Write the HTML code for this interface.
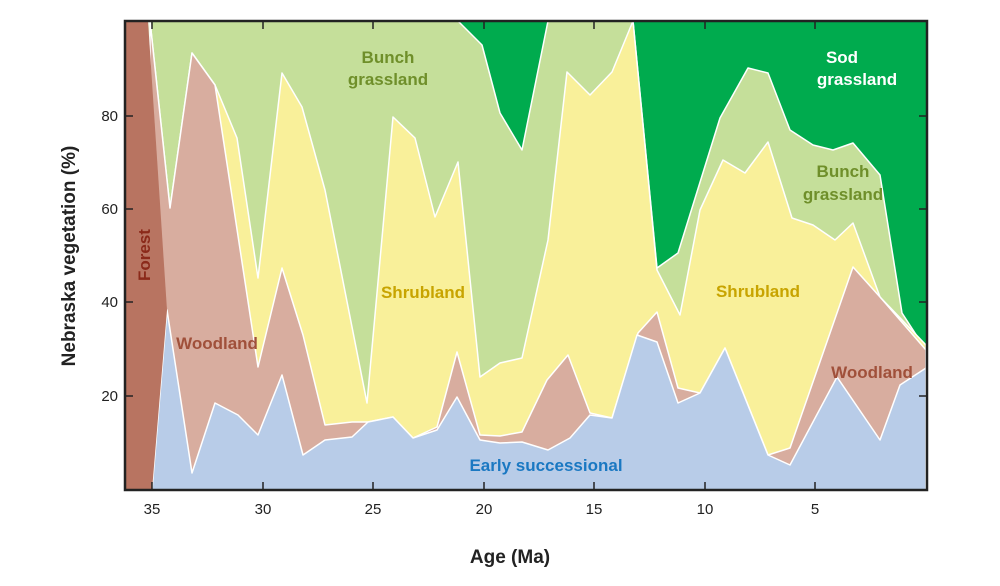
<!DOCTYPE html>
<html><head><meta charset="utf-8"><style>
body{margin:0;background:#fff;}
svg{display:block;font-family:"Liberation Sans",sans-serif;}
</style></head><body>
<svg width="1000" height="586" viewBox="0 0 1000 586" xmlns="http://www.w3.org/2000/svg">
<rect width="1000" height="586" fill="#fff"/>
<rect x="125" y="21" width="802" height="469" fill="#00ab4e"/>
<g stroke="#fff" stroke-width="1.5" stroke-linejoin="round">
<polygon fill="#c5df9a" points="148,21 458,21 482,45 500,113 522,150 548,21 633,21 657,268 678,253 720,118 748,68 768,73 790,130 813,145 833,150 853,143 880,175 902,313 926,350 926,490 148,490"/>
<polygon fill="#f9f09a" points="150,21 170,208 192,53 215,85 237,138 258,278 282,73 302,107 325,190 367,403 393,117 415,138 435,217 458,162 480,377 500,363 522,358 548,240 567,72 590,95 612,72 633,21 657,270 680,315 700,210 723,160 745,173 768,142 792,218 813,225 835,240 853,223 880,297 926,345 926,490 150,490"/>
<polygon fill="#d8ad9f" points="150,21 170,208 192,53 215,85 258,367 282,268 303,335 325,425 352,422 368,422 393,417 413,438 437,427 457,352 480,435 500,436 522,432 547,380 568,355 590,413 612,418 638,333 657,312 678,388 700,393 725,348 768,455 790,448 853,267 880,297 926,350 926,490 150,490"/>
<polygon fill="#b8cce8" points="152,490 167,310 192,473 215,403 238,415 258,435 282,375 303,455 325,440 352,437 368,422 393,417 413,438 437,430 457,397 480,440 500,443 522,442 548,450 570,438 590,415 612,418 637,335 657,342 678,403 700,393 725,348 768,455 790,465 837,377 880,440 900,385 926,368 926,490"/>
</g>
<polygon fill="#b87461" points="125,21 148,21 167,310 152,490 125,490"/>
<rect x="125" y="21" width="802" height="469" fill="none" stroke="#222" stroke-width="2.5"/>
<g stroke="#222" stroke-width="1.5">
<line x1="152" y1="490" x2="152" y2="482"/><line x1="263" y1="490" x2="263" y2="482"/><line x1="373" y1="490" x2="373" y2="482"/><line x1="484" y1="490" x2="484" y2="482"/><line x1="594" y1="490" x2="594" y2="482"/><line x1="705" y1="490" x2="705" y2="482"/><line x1="815" y1="490" x2="815" y2="482"/>
<line x1="152" y1="21" x2="152" y2="29"/><line x1="263" y1="21" x2="263" y2="29"/><line x1="373" y1="21" x2="373" y2="29"/><line x1="484" y1="21" x2="484" y2="29"/><line x1="594" y1="21" x2="594" y2="29"/><line x1="705" y1="21" x2="705" y2="29"/><line x1="815" y1="21" x2="815" y2="29"/>
<line x1="125" y1="116" x2="133" y2="116"/><line x1="125" y1="209" x2="133" y2="209"/><line x1="125" y1="302" x2="133" y2="302"/><line x1="125" y1="396" x2="133" y2="396"/>
<line x1="927" y1="116" x2="919" y2="116"/><line x1="927" y1="209" x2="919" y2="209"/><line x1="927" y1="302" x2="919" y2="302"/><line x1="927" y1="396" x2="919" y2="396"/>
</g>
<g font-size="15" fill="#222" text-anchor="end">
<text x="118" y="121">80</text><text x="118" y="214">60</text><text x="118" y="307">40</text><text x="118" y="401">20</text>
</g>
<g font-size="15" fill="#222" text-anchor="middle">
<text x="152" y="514">35</text><text x="263" y="514">30</text><text x="373" y="514">25</text><text x="484" y="514">20</text><text x="594" y="514">15</text><text x="705" y="514">10</text><text x="815" y="514">5</text>
</g>
<text x="510" y="563" font-size="19" font-weight="bold" fill="#222" text-anchor="middle">Age (Ma)</text>
<text transform="translate(75,256) rotate(-90)" font-size="19" font-weight="bold" fill="#222" text-anchor="middle">Nebraska vegetation (%)</text>
<g font-size="17" font-weight="bold" text-anchor="middle">
<text x="388" y="63" fill="#6f8f2a">Bunch</text><text x="388" y="85" fill="#6f8f2a">grassland</text>
<text x="842" y="63" fill="#fff">Sod</text><text x="857" y="85" fill="#fff">grassland</text>
<text x="843" y="177" fill="#6f8f2a">Bunch</text><text x="843" y="200" fill="#6f8f2a">grassland</text>
<text x="423" y="298" fill="#c8a400">Shrubland</text>
<text x="758" y="297" fill="#c8a400">Shrubland</text>
<text x="217" y="349" fill="#a0503a">Woodland</text>
<text x="872" y="378" fill="#a0503a">Woodland</text>
<text x="546" y="471" fill="#1a78c2">Early successional</text>
<text transform="translate(150,255) rotate(-90)" fill="#8b2a1a">Forest</text>
</g>
</svg>
</body></html>
